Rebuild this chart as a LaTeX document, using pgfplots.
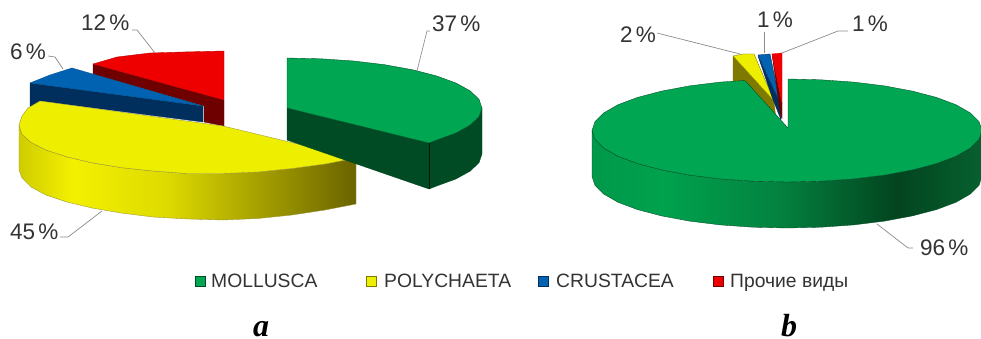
\documentclass[border=0pt]{standalone}
\usepackage{pgfplots}
\pgfplotsset{compat=1.18}
\usepackage{fontspec}
\setmainfont{Liberation Sans}
\newfontfamily\serifbi{Liberation Serif}
\definecolor{gtop}{HTML}{00A651}
\definecolor{gside}{HTML}{004A24}
\definecolor{ytop}{HTML}{EEEE00}
\definecolor{yside}{HTML}{7F7900}
\definecolor{btop}{HTML}{0062B0}
\definecolor{bside}{HTML}{002F5E}
\definecolor{rtop}{HTML}{EE0000}
\definecolor{rside}{HTML}{6F0000}
\definecolor{lead}{HTML}{8C8C8C}
\definecolor{txt}{HTML}{333333}
\definecolor{ywa}{HTML}{CFCC00}
\definecolor{ywb}{HTML}{F4F000}
\definecolor{ywc}{HTML}{DDDA00}
\definecolor{ywd}{HTML}{A8A200}
\definecolor{ywe}{HTML}{6A6300}
\definecolor{gwa}{HTML}{00984A}
\definecolor{gwb}{HTML}{00A24E}
\definecolor{gwc}{HTML}{03823F}
\definecolor{gwd}{HTML}{03441F}
\definecolor{gwe}{HTML}{07602F}
\pgfdeclarehorizontalshading{yellowwall}{100bp}{%
 color(0bp)=(ywa); color(25bp)=(ywa); color(33bp)=(ywb); color(47bp)=(ywc); color(60bp)=(ywd); color(75bp)=(ywe); color(100bp)=(ywe)}
\pgfdeclarehorizontalshading{greenwall}{100bp}{%
 color(0bp)=(gwa); color(25bp)=(gwa); color(34bp)=(gwb); color(49bp)=(gwc); color(64bp)=(gwd); color(75bp)=(gwe); color(100bp)=(gwe)}
\newcommand{\pc}{\hspace{0.14em}\%}
\tikzset{
  poly/.style={mark=none, line join=round, line width=0.35pt},
  lbl/.style={anchor=west, inner sep=0pt, text=txt, font=\fontsize{22.5}{26}\selectfont},
  leg/.style={anchor=base west, inner sep=0pt, text=txt, font=\fontsize{19.3}{23}\selectfont},
  subcap/.style={anchor=base, inner sep=0pt, text=black, font=\fontsize{32}{36}\serifbi\bfseries\itshape},
  ldr/.style={mark=none, draw=lead, line width=0.7pt},
}
\begin{document}
\begin{tikzpicture}
\begin{axis}[
  scale only axis, width=981pt, height=339pt,
  xmin=0, xmax=981, ymin=0, ymax=339, y dir=reverse,
  hide axis,
]
% page extent
\addplot[mark=none, draw=white, fill=white] coordinates {(0,0)(981,0)(981,339)(0,339)} --cycle;

% ---- pie a ----
% red wedge
\addplot[poly, draw=rside!80!black, fill=rside] coordinates {(93,64)(224,100)(224,126)(204,122)(204,106)(93,74)} --cycle;
\addplot[poly, draw=rtop!80!black, fill=rtop] coordinates {(93,64)(117,57)(150,53)(183,52)(224,51)(224,100)} --cycle;
% blue wedge
\addplot[poly, draw=bside, fill=bside] coordinates {(30,83)(203,106)(203,122)(40,101)(30,107)} --cycle;
\addplot[poly, draw=btop!80!black, fill=btop] coordinates {(30,83)(50,75)(72,68)(203,106)} --cycle;
% yellow wedge
\addplot[poly, draw=yside!80, shading=yellowwall] coordinates {(19,125)(19,170)(22,178)(31,187)(46,195)(67,202)(92,208)(121,213)(153,217)(188,219)(223,220)(258,218.5)(292,215)(325,210)(356,204)(356,158)(325,164)(292,168.5)(258,172)(223,173.5)(187,173.5)(153,171)(121,167.6)(92,162.8)(67,156.9)(46,150)(31,142.4)(22,134.3)} --cycle;
\addplot[poly, draw=yside!80, fill=ytop] coordinates {(40,101)(28,108)(22,116)(19,125)(22,134.3)(31,142.4)(46,150)(67,156.9)(92,162.8)(121,167.6)(153,171)(187,173.5)(223,173.5)(258,172)(292,168.5)(325,164)(356,158)(223,126)} --cycle;
% green wedge
\addplot[poly, draw=gside, fill=gside] coordinates {(287,108)(429,143)(436.4,140.1)(455.9,133)(470.2,125.1)(479,116.7)(482,108)(482,154)(479,162.7)(470.2,171.1)(455.9,179)(436.4,186.1)(429,189)(287,140)} --cycle;
\addplot[poly, draw=black!70!gside, line width=0.3pt] coordinates {(429,143)(429,189)};
\addplot[poly, draw=gside, fill=gtop] coordinates {(287,58)(320.9,58.8)(353.7,61)(384.5,64.7)(412.3,69.7)(436.4,75.9)(455.9,83)(470.2,90.9)(479,99.3)(482,108)(479,116.7)(470.2,125.1)(455.9,133)(436.4,140.1)(429,143)(287,108)} --cycle;

% ---- pie b ----
\addplot[poly, draw=yside, fill=yside] coordinates {(733,56)(774,101)(776,120)(745,85)(733,81)} --cycle;
\addplot[poly, draw=yside, fill=ytop] coordinates {(733,56)(743,54)(754,54)(774,101)} --cycle;
\addplot[poly, draw=bside, fill=bside] coordinates {(758,56)(780,103)(781,120)(772,97)} --cycle;
\addplot[poly, draw=bside, fill=btop] coordinates {(758,55)(770,54)(780,103)} --cycle;
\addplot[poly, draw=rside, fill=rside] coordinates {(772,54)(782,103)(782,119)(780,112)} --cycle;
\addplot[poly, draw=rtop, fill=rtop] coordinates {(772,54)(782,53)(782,103)} --cycle;
% big green slice
\addplot[poly, draw=gside, shading=greenwall] coordinates {(592,130.5)(592,176.5)(595,185.4)(603.8,194.1)(618.1,202.3)(637.6,209.6)(661.7,215.9)(689.5,221.1)(720.3,224.9)(753.1,227.2)(787,228)(820.9,227.2)(853.7,224.9)(884.5,221.1)(912.3,215.9)(936.4,209.6)(955.9,202.3)(970.2,194.1)(979,185.4)(982,176.5)(982,130.5)(979,139.4)(970.2,148.1)(955.9,156.3)(936.4,163.6)(912.3,169.9)(884.5,175.1)(853.7,178.9)(820.9,181.2)(787,182)(753.1,181.2)(720.3,178.9)(689.5,175.1)(661.7,169.9)(637.6,163.6)(618.1,156.3)(603.8,148.1)(595,139.4)} --cycle;
\addplot[poly, draw=gside, fill=gtop] coordinates {(788,128)(788,79)(820.9,79.8)(853.7,82.1)(884.5,85.9)(912.3,91.1)(936.4,97.4)(955.9,104.7)(970.2,112.9)(979,121.6)(982,130.5)(979,139.4)(970.2,148.1)(955.9,156.3)(936.4,163.6)(912.3,169.9)(884.5,175.1)(853.7,178.9)(820.9,181.2)(787,182)(753.1,181.2)(720.3,178.9)(689.5,175.1)(661.7,169.9)(637.6,163.6)(618.1,156.3)(603.8,148.1)(595,139.4)(592,130.5)(595,121.6)(603.8,112.9)(618.1,104.7)(637.6,97.4)(661.7,91.1)(689.5,85.9)(720.3,82.1)(745,80.5)} --cycle;

% ---- leader lines ----
\addplot[ldr] coordinates {(430,31)(427,31)(417,71)};
\addplot[ldr] coordinates {(132,30)(137,30)(155,53)};
\addplot[ldr] coordinates {(48,56)(55,57)(63,69)};
\addplot[ldr] coordinates {(60,237)(68,237)(102,211)};
\addplot[ldr] coordinates {(657,33)(740,54)};
\addplot[ldr] coordinates {(764,32)(764,53)};
\addplot[ldr] coordinates {(848,31)(838,31)(782,53)};
\addplot[ldr] coordinates {(913,248)(908,248)(877,224)};

% ---- legend markers ----
\addplot[only marks, mark=square*, mark size=4.8pt, mark options={draw=gside, fill=gtop, line width=0.4pt}] coordinates {(200,281)};
\addplot[only marks, mark=square*, mark size=4.8pt, mark options={draw=yside, fill=ytop, line width=0.4pt}] coordinates {(371,281)};
\addplot[only marks, mark=square*, mark size=4.8pt, mark options={draw=bside, fill=btop, line width=0.4pt}] coordinates {(543,281)};
\addplot[only marks, mark=square*, mark size=4.8pt, mark options={draw=rside, fill=rtop, line width=0.4pt}] coordinates {(718,281)};

% ---- texts ----
\node[lbl] at (axis cs:432,24) {37\pc};
\node[lbl] at (axis cs:81,23) {12\pc};
\node[lbl] at (axis cs:10,52) {6\pc};
\node[lbl] at (axis cs:10,232) {45\pc};
\node[lbl] at (axis cs:620,35) {2\pc};
\node[lbl] at (axis cs:757,20) {1\pc};
\node[lbl] at (axis cs:852,24) {1\pc};
\node[lbl] at (axis cs:920,248) {96\pc};
\node[leg] at (axis cs:211,287.5) {MOLLUSCA};
\node[leg] at (axis cs:384,287.5) {POLYCHAETA};
\node[leg] at (axis cs:556,287.5) {CRUSTACEA};
\node[leg] at (axis cs:730,287) {Прочие виды};
\node[subcap] at (axis cs:261,336.5) {a};
\node[subcap] at (axis cs:789,336.5) {b};
\end{axis}
\end{tikzpicture}
\end{document}
